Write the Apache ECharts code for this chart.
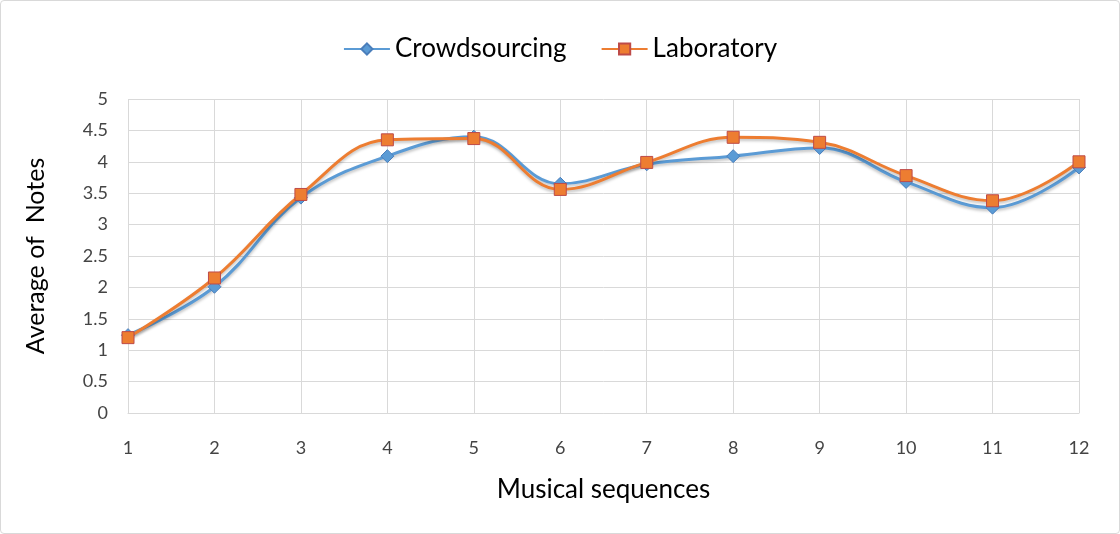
<!DOCTYPE html>
<html>
<head>
<meta charset="utf-8">
<script src="https://cdn.jsdelivr.net/npm/echarts@6/dist/echarts.min.js"></script>
<style>
  html, body { margin: 0; padding: 0; background: #fff; }
  #chart { width: 1120px; height: 534px; box-sizing: border-box; border: 1px solid #d9d9d9; border-radius: 4px; }
</style>
</head>
<body>
<div id="chart"></div>
<script>
const sequences = ['1', '2', '3', '4', '5', '6', '7', '8', '9', '10', '11', '12'];
const crowdsourcing = [1.24, 2.01, 3.43, 4.09, 4.40, 3.65, 3.96, 4.09, 4.22, 3.68, 3.27, 3.91];
const laboratory = [1.20, 2.15, 3.48, 4.35, 4.37, 3.56, 3.99, 4.39, 4.31, 3.78, 3.38, 4.00];

const font = 'Lato, "Open Sans", sans-serif';
const chart = echarts.init(document.getElementById('chart'));

chart.setOption({
    textStyle: { fontFamily: font },
    legend: {
        top: 30,
        left: 'center',
        itemWidth: 46,
        itemHeight: 14,
        itemGap: 34,
        textStyle: { fontSize: 26, color: '#000', fontFamily: font },
        data: ['Crowdsourcing', 'Laboratory']
    },
    grid: { left: 127, right: 40, top: 98, bottom: 120 },
    xAxis: {
        type: 'category',
        data: sequences,
        boundaryGap: false,
        name: 'Musical sequences',
        nameLocation: 'middle',
        nameGap: 64,
        nameTextStyle: { fontSize: 26, color: '#000' },
        axisLine: { lineStyle: { color: '#d9d9d9' } },
        axisTick: { show: false },
        axisLabel: { fontSize: 18, color: '#444', margin: 26 },
        splitLine: { show: true, lineStyle: { color: '#d9d9d9' } }
    },
    yAxis: {
        type: 'value',
        min: 0,
        max: 5,
        interval: 0.5,
        name: 'Average of  Notes',
        nameLocation: 'middle',
        nameGap: 80,
        nameTextStyle: { fontSize: 25, color: '#000' },
        axisLine: { show: false },
        axisTick: { show: false },
        axisLabel: { fontSize: 18, color: '#444', margin: 20 },
        splitLine: { lineStyle: { color: '#d9d9d9' } }
    },
    series: [{
        name: 'Crowdsourcing',
        type: 'line',
        data: crowdsourcing,
        smooth: 0.4,
        symbol: 'diamond',
        symbolSize: 13,
        lineStyle: { color: '#5b9bd5', width: 3, shadowColor: 'rgba(0,0,0,0.25)', shadowBlur: 3, shadowOffsetY: 2 },
        itemStyle: { color: '#5b9bd5', borderColor: '#4a7ebb', borderWidth: 1 }
    }, {
        name: 'Laboratory',
        type: 'line',
        data: laboratory,
        smooth: 0.4,
        symbol: 'rect',
        symbolSize: 12,
        lineStyle: { color: '#ed7d31', width: 3, shadowColor: 'rgba(0,0,0,0.25)', shadowBlur: 3, shadowOffsetY: 2 },
        itemStyle: { color: '#ed7d31', borderColor: '#be4b48', borderWidth: 1 }
    }]
});
</script>
</body>
</html>
